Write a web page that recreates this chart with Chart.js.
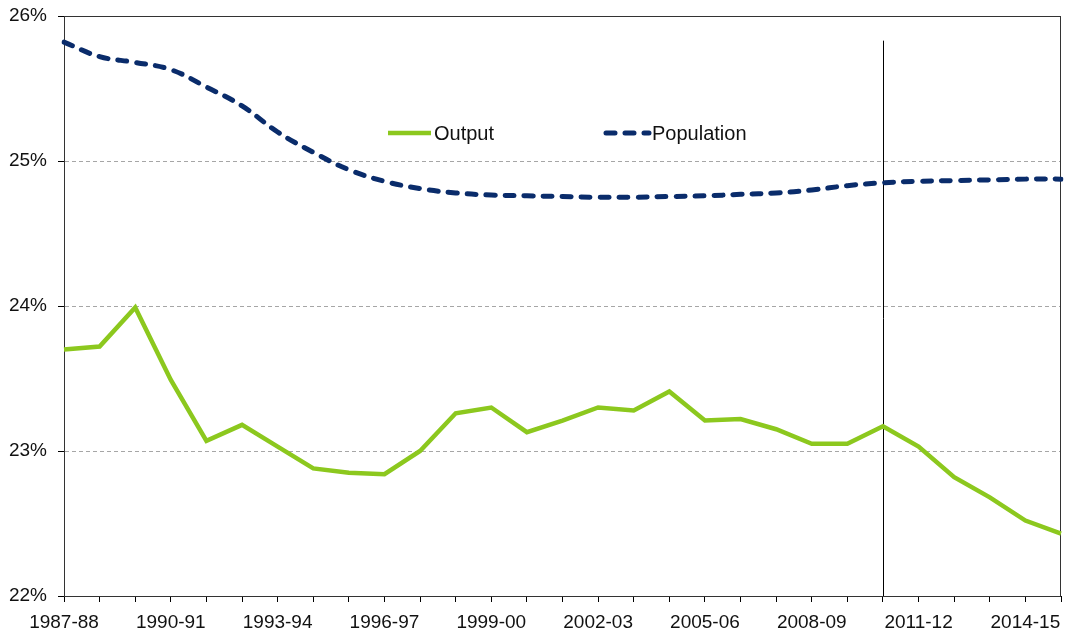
<!DOCTYPE html>
<html>
<head>
<meta charset="utf-8">
<script src="https://cdn.jsdelivr.net/npm/chart.js@4.4.1/dist/chart.umd.min.js"></script>
<style>
  html, body { margin: 0; padding: 0; background: #fff; }
  #wrap { width: 1065px; height: 635px; position: relative; }
</style>
</head>
<body>
<div id="wrap"><canvas id="shareChart"></canvas></div>
<script>
'use strict';

// financial years on the x axis
const years = [
  '1987-88', '1988-89', '1989-90', '1990-91', '1991-92', '1992-93', '1993-94',
  '1994-95', '1995-96', '1996-97', '1997-98', '1998-99', '1999-00', '2000-01',
  '2001-02', '2002-03', '2003-04', '2004-05', '2005-06', '2006-07', '2007-08',
  '2008-09', '2009-10', '2010-11', '2011-12', '2012-13', '2013-14', '2014-15',
  '2015-16'
];

// shares, per cent
const output = [
  23.70, 23.72, 23.99, 23.49, 23.07, 23.18, 23.03, 22.88, 22.85, 22.84,
  23.00, 23.26, 23.30, 23.13, 23.21, 23.30, 23.28, 23.41, 23.21, 23.22,
  23.15, 23.05, 23.05, 23.17, 23.03, 22.82, 22.68, 22.52, 22.43
];
const population = [
  25.82, 25.72, 25.68, 25.63, 25.51, 25.38, 25.20, 25.06, 24.94, 24.86,
  24.81, 24.78, 24.765, 24.76, 24.755, 24.75, 24.75, 24.755, 24.76, 24.77,
  24.78, 24.80, 24.83, 24.85, 24.86, 24.865, 24.87, 24.875, 24.875
];

const yTicks = [22, 23, 24, 25, 26];
const labelEvery = 3;
const markerYear = '2010-11';
const markerTop = 25.83;

const GREEN = '#8CC81E';
const NAVY = '#0A2C6B';
const FONT = "'Liberation Sans', Arial, sans-serif";

// black frame round the plot area plus the vertical line at the marker year
const framePlugin = {
    id: 'frame',
    beforeDatasetsDraw: function(chart) {
        const ctx = chart.ctx;
        const a = chart.chartArea;
        const x = chart.scales.x.getPixelForValue(years.indexOf(markerYear));
        const yTop = chart.scales.y.getPixelForValue(markerTop);
        ctx.save();
        ctx.strokeStyle = '#000';
        ctx.lineWidth = 1;
        ctx.beginPath();
        ctx.moveTo(Math.round(x) + 0.5, yTop);
        ctx.lineTo(Math.round(x) + 0.5, a.bottom);
        ctx.stroke();
        ctx.strokeStyle = '#333';
        ctx.strokeRect(a.left + 0.5, a.top + 0.5, a.right - a.left - 1, a.bottom - a.top);
        ctx.restore();
    }
};

// legend sits inside the plot area in the original
const legendPlugin = {
    id: 'insideLegend',
    afterDraw: function(chart) {
        const ctx = chart.ctx;
        const items = [
            { text: 'Output', color: GREEN, width: 4.5, dash: [], x: 388 },
            { text: 'Population', color: NAVY, width: 5, dash: [9, 10], x: 606 }
        ];
        const y = 133;
        ctx.save();
        ctx.font = '20px ' + FONT;
        ctx.textBaseline = 'middle';
        items.forEach(function(it) {
            ctx.strokeStyle = it.color;
            ctx.lineWidth = it.width;
            ctx.lineCap = it.dash.length ? 'round' : 'butt';
            ctx.setLineDash(it.dash);
            ctx.beginPath();
            ctx.moveTo(it.x, y);
            ctx.lineTo(it.x + 43, y);
            ctx.stroke();
            ctx.setLineDash([]);
            ctx.fillStyle = '#111';
            ctx.fillText(it.text, it.x + 46, y + 1);
        });
        ctx.restore();
    }
};

const ctx = document.getElementById('shareChart').getContext('2d');
new Chart(ctx, {
    type: 'line',
    data: {
        labels: years,
        datasets: [
            {
                label: 'Output',
                data: output,
                borderColor: GREEN,
                borderWidth: 4.5,
                pointRadius: 0,
                tension: 0,
                fill: false
            },
            {
                label: 'Population',
                data: population,
                borderColor: NAVY,
                borderWidth: 5,
                borderDash: [9, 10],
                borderCapStyle: 'round',
                pointRadius: 0,
                tension: 0.4,
                fill: false
            }
        ]
    },
    options: {
        responsive: true,
        maintainAspectRatio: false,
        animation: false,
        layout: { padding: { left: 0, top: 16, right: 4, bottom: 0 } },
        plugins: {
            legend: { display: false },
            tooltip: { enabled: false }
        },
        scales: {
            x: {
                offset: false,
                grid: {
                    display: true,
                    drawOnChartArea: false,
                    tickLength: 6,
                    tickColor: '#000'
                },
                border: { display: true, color: '#000' },
                ticks: {
                    autoSkip: false,
                    maxRotation: 0,
                    padding: 9,
                    color: '#111',
                    font: { family: FONT, size: 19 },
                    callback: function(value, index) {
                        return index % labelEvery === 0 ? years[index] : '';
                    }
                },
                afterFit: function(scale) {
                    scale.height = 39;
                    scale.paddingLeft = 0;
                    scale.paddingRight = 0;
                }
            },
            y: {
                min: yTicks[0],
                max: yTicks[yTicks.length - 1],
                afterBuildTicks: function(scale) {
                    scale.ticks = yTicks.map(function(v) { return { value: v }; });
                },
                grid: {
                    color: function(c) {
                        const v = c.tick ? c.tick.value : null;
                        return (v === yTicks[0] || v === yTicks[yTicks.length - 1]) ? 'rgba(0,0,0,0)' : '#a6a6a6';
                    },
                    tickColor: '#000',
                    tickLength: 6,
                    tickBorderDash: [],
                    lineWidth: 1
                },
                border: { display: true, color: '#000', dash: [4, 3] },
                ticks: {
                    padding: 11,
                    color: '#111',
                    font: { family: FONT, size: 19 },
                    callback: function(v) { return v + '%'; }
                },
                afterFit: function(scale) {
                    scale.width = 64;
                    scale.paddingTop = 0;
                    scale.paddingBottom = 0;
                }
            }
        }
    },
    plugins: [framePlugin, legendPlugin]
});
</script>
</body>
</html>
